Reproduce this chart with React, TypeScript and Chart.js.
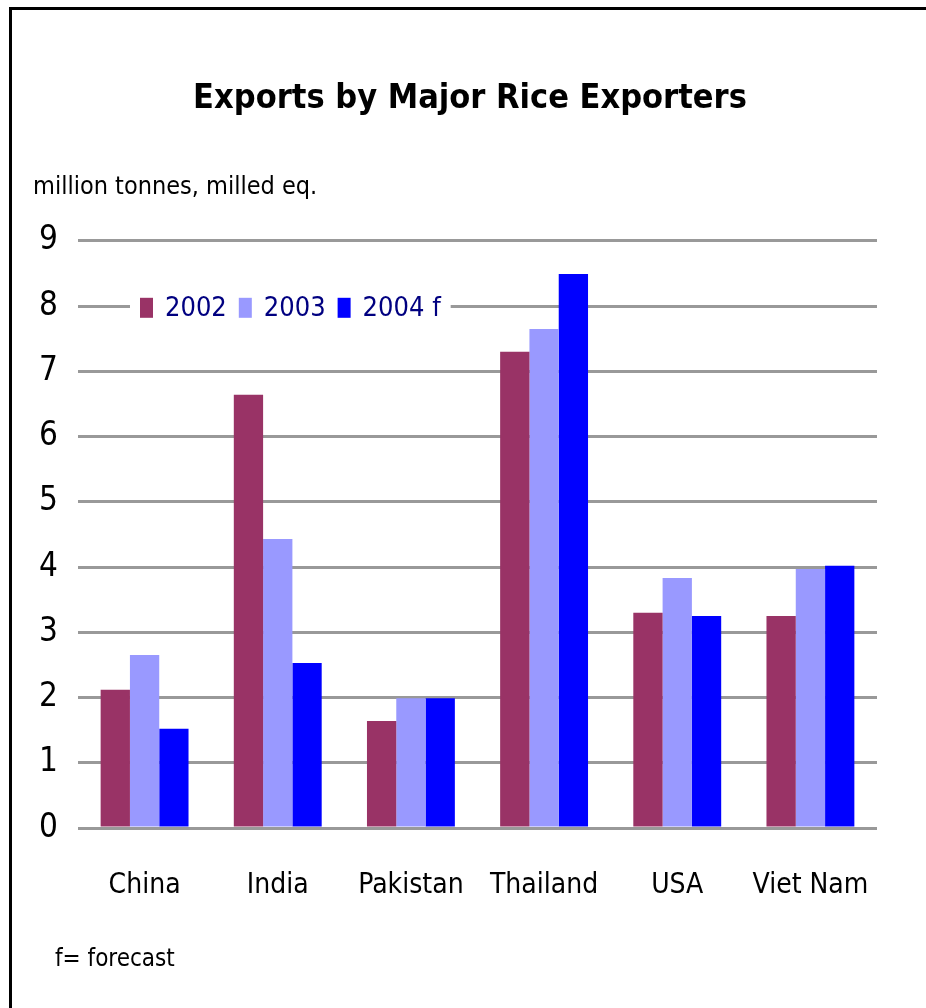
import React, { useEffect, useRef } from "react";
import { Chart, registerables } from "chart.js";

Chart.register(...registerables);

const categories = ["China", "India", "Pakistan", "Thailand", "USA", "Viet Nam"];
const seriesLabels = ["2002", "2003", "2004 f"];
const values2002 = [2.12, 6.64, 1.64, 7.3, 3.3, 3.25];
const values2003 = [2.65, 4.43, 1.99, 7.65, 3.83, 3.97];
const values2004 = [1.52, 2.53, 1.99, 8.49, 3.25, 4.02];
const seriesColors = ["#993366", "#9999FF", "#0000FF"];
const yTicks = [0, 1, 2, 3, 4, 5, 6, 7, 8, 9];
const titleText = "Exports by Major Rice Exporters";
const unitText = "million tonnes, milled eq.";
const footnoteText = "f= forecast";

const FONT = '"Liberation Sans Narrow", "DejaVu Sans Condensed", "Liberation Sans", Arial, sans-serif';

const framePlugin = {
  id: "frame",
  afterDraw(chart: any) {
    const ctx = chart.ctx;
    ctx.save();
    ctx.strokeStyle = "#000000";
    ctx.lineWidth = 3;
    ctx.strokeRect(10.5, 8.5, chart.width + 20, chart.height + 20);
    ctx.restore();
  },
};

const insideLegendPlugin = {
  id: "insideLegend",
  afterDatasetsDraw(chart: any) {
    const ctx = chart.ctx;
    const area = chart.chartArea;
    const cy = area.top + 67;
    const startX = area.left + 62;
    ctx.save();
    ctx.font = "27px " + FONT;
    ctx.textBaseline = "middle";
    ctx.textAlign = "left";
    let x = startX;
    const items = chart.data.datasets.map((ds: any) => {
      const w = ctx.measureText(ds.label).width;
      return { label: ds.label, color: ds.backgroundColor, w };
    });
    let total = 0;
    items.forEach((it: any, i: number) => {
      total += 13 + 12 + it.w + (i < items.length - 1 ? 12 : 0);
    });
    ctx.fillStyle = "#ffffff";
    ctx.fillRect(startX - 10, cy - 14, total + 20, 28);
    items.forEach((it: any) => {
      ctx.fillStyle = it.color;
      ctx.fillRect(x, cy - 10, 13, 20);
      x += 13 + 12;
      ctx.fillStyle = "#000080";
      ctx.fillText(it.label, x, cy + 1);
      x += it.w + 12;
    });
    ctx.restore();
  },
};

const footnotePlugin = {
  id: "footnote",
  afterDraw(chart: any) {
    const ctx = chart.ctx;
    ctx.save();
    ctx.font = "24px " + FONT;
    ctx.fillStyle = "#000000";
    ctx.textBaseline = "middle";
    ctx.textAlign = "left";
    ctx.fillText(footnoteText, 55, 960);
    ctx.restore();
  },
};

export default function App() {
  const canvasRef = useRef<HTMLCanvasElement | null>(null);

  useEffect(() => {
    if (!canvasRef.current) return;
    const seriesValues = [values2002, values2003, values2004];
    const chart = new Chart(canvasRef.current, {
      type: "bar",
      data: {
        labels: categories,
        datasets: seriesLabels.map((label, i) => ({
          label,
          data: seriesValues[i],
          backgroundColor: seriesColors[i],
          borderWidth: 0,
          categoryPercentage: 0.66,
          barPercentage: 1.0,
        })),
      },
      options: {
        responsive: false,
        animation: false,
        layout: { padding: { left: 33, right: 19, top: 0, bottom: 80 } },
        plugins: {
          legend: { display: false },
          tooltip: { enabled: false },
          title: {
            display: true,
            text: titleText,
            color: "#000000",
            font: { family: FONT, size: 34, weight: "bold", lineHeight: 1.2 },
            padding: { top: 79, bottom: 0 },
          },
          subtitle: {
            display: true,
            text: unitText,
            align: "start",
            color: "#000000",
            font: { family: FONT, size: 25, weight: "normal", lineHeight: 1.2 },
            padding: { top: 53, bottom: 38 },
          },
        },
        scales: {
          x: {
            grid: { display: false, drawTicks: false },
            border: { display: false },
            ticks: {
              color: "#000000",
              font: { family: FONT, size: 28 },
              padding: 41,
              maxRotation: 0,
              autoSkip: false,
            },
            afterFit: (s: any) => {
              s.height = 100;
            },
          },
          y: {
            min: 0,
            max: 9,
            afterBuildTicks: (s: any) => {
              s.ticks = yTicks.map((v) => ({ value: v }));
            },
            grid: { color: "#999999", lineWidth: 3, drawTicks: false },
            border: { display: false },
            ticks: {
              color: "#000000",
              font: { family: FONT, size: 33 },
              padding: 20,
            },
            afterFit: (s: any) => {
              s.width = 45;
            },
          },
          yRight: {
            type: "linear",
            position: "right",
            display: true,
            grid: { display: false, drawTicks: false },
            border: { display: false },
            ticks: { display: false },
            afterFit: (s: any) => {
              s.width = 30;
            },
          },
        },
      },
      plugins: [insideLegendPlugin, footnotePlugin, framePlugin],
    } as any);
    return () => chart.destroy();
  }, []);

  return (
    <div style={{ position: "fixed", left: 0, top: 0, width: 926, height: 1008, background: "#ffffff" }}>
      <canvas ref={canvasRef} width={926} height={1008} style={{ display: "block" }} />
    </div>
  );
}
